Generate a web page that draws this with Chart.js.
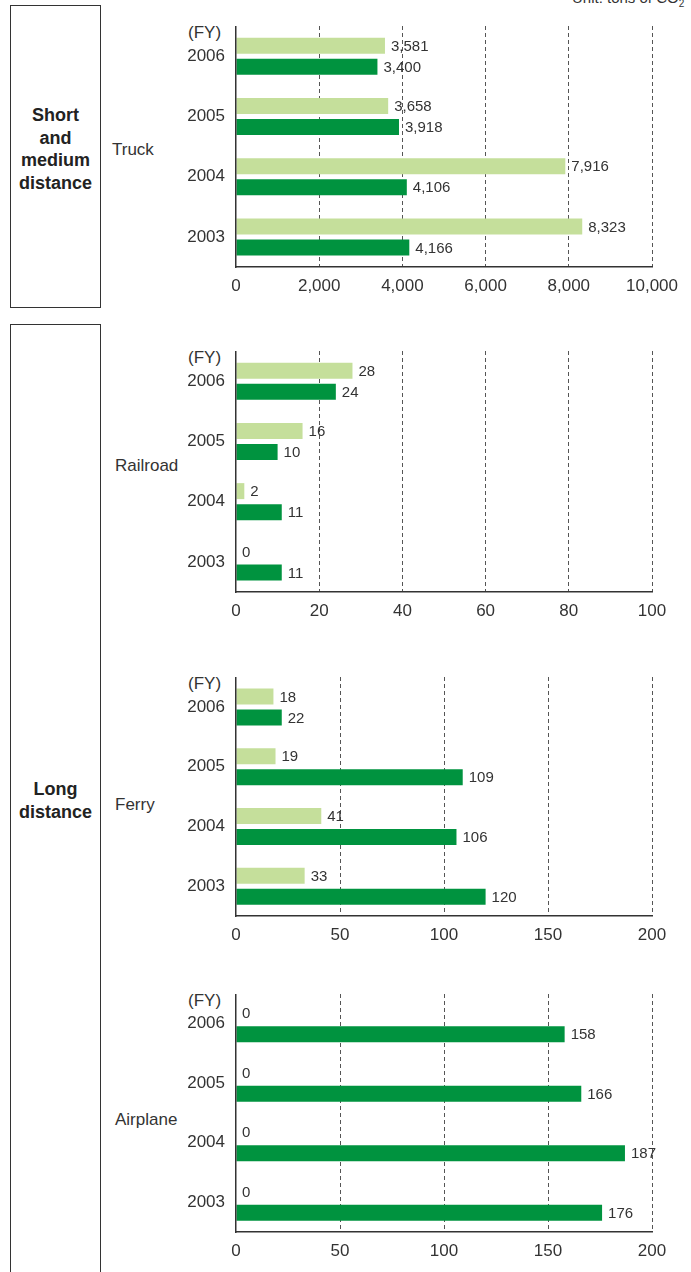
<!DOCTYPE html>
<html>
<head>
<meta charset="utf-8">
<script src="https://cdn.jsdelivr.net/npm/chart.js@4.4.1/dist/chart.umd.min.js"></script>
<style>
  html, body { margin: 0; padding: 0; background: #fff; }
  body { position: relative; width: 691px; height: 1272px; overflow: hidden;
         font-family: "Liberation Sans", Arial, sans-serif; color: #333; }
  .box { position: absolute; left: 10px; width: 89px; border: 1px solid #333; box-sizing: content-box; }
  .boxtxt { position: absolute; left: 10px; width: 91px; text-align: center; font-weight: bold;
            font-size: 18px; line-height: 22.5px; color: #222; }
  .cat { position: absolute; font-size: 17px; line-height: 17px; color: #333; }
  .fy { position: absolute; left: 188px; font-size: 17px; line-height: 17px; color: #333; }
  .unit { position: absolute; left: 572px; top: -10px; font-size: 15px; line-height: 15px; color: #333; white-space: nowrap; }
  canvas { position: absolute; left: 100px; }
</style>
</head>
<body>
<div class="unit">Unit: tons of CO<sub style="font-size:10px">2</sub></div>

<div class="box" style="top:5px;height:301px"></div>
<div class="boxtxt" style="top:104px">Short<br>and<br>medium<br>distance</div>
<div class="box" style="top:324px;height:1000px"></div>
<div class="boxtxt" style="top:778px">Long<br>distance</div>

<div class="cat" style="left:112px;top:141px">Truck</div>
<div class="cat" style="left:115px;top:457px">Railroad</div>
<div class="cat" style="left:115px;top:796px">Ferry</div>
<div class="cat" style="left:115px;top:1111px">Airplane</div>

<div class="fy" style="top:24px">(FY)</div>
<div class="fy" style="top:349px">(FY)</div>
<div class="fy" style="top:675px">(FY)</div>
<div class="fy" style="top:992px">(FY)</div>

<canvas id="truck"></canvas>
<canvas id="rail"></canvas>
<canvas id="ferry"></canvas>
<canvas id="air"></canvas>

<script>
const years = ["2006", "2005", "2004", "2003"];

const truckLight = [3581, 3658, 7916, 8323];
const truckDark  = [3400, 3918, 4106, 4166];
const railLight  = [28, 16, 2, 0];
const railDark   = [24, 10, 11, 11];
const ferryLight = [18, 19, 41, 33];
const ferryDark  = [22, 109, 106, 120];
const airLight   = [0, 0, 0, 0];
const airDark    = [158, 166, 187, 176];

const truckTicks = [0, 10000, 2000];
const railTicks  = [0, 100, 20];
const ferryTicks = [0, 200, 50];
const airTicks   = [0, 200, 50];

const LIGHT = "#c5df9b";
const DARK = "#00933f";
const TEXT = "#333";
const FONT = "'Liberation Sans', Arial, sans-serif";

const valueLabels = {
  id: "valueLabels",
  afterDatasetsDraw(chart) {
    const ctx = chart.ctx;
    ctx.save();
    ctx.font = "15px " + FONT;
    ctx.fillStyle = TEXT;
    ctx.textAlign = "left";
    ctx.textBaseline = "middle";
    chart.data.datasets.forEach((ds, i) => {
      chart.getDatasetMeta(i).data.forEach((bar, j) => {
        ctx.fillText(ds.data[j].toLocaleString("en-US"), bar.x + 6, bar.y + 1);
      });
    });
    ctx.restore();
  }
};

function makeChart(id, top, plotH, light, dark, ticks) {
  const canvas = document.getElementById(id);
  const h = plotH + 36;
  canvas.width = 591;
  canvas.height = h;
  canvas.style.top = top + "px";
  canvas.style.width = "591px";
  canvas.style.height = h + "px";
  const pitch = plotH / years.length;

  return new Chart(canvas, {
    type: "bar",
    data: {
      labels: years,
      datasets: [
        { data: light, backgroundColor: LIGHT, borderWidth: 0 },
        { data: dark, backgroundColor: DARK, borderWidth: 0 }
      ]
    },
    options: {
      indexAxis: "y",
      responsive: false,
      animation: false,
      categoryPercentage: 42 / pitch,
      barPercentage: 16 / 21,
      layout: { padding: { top: 0, right: 39, bottom: 0, left: 0 } },
      plugins: { legend: { display: false }, tooltip: { enabled: false } },
      scales: {
        x: {
          min: ticks[0],
          max: ticks[1],
          afterFit: (s) => { s.height = 36; s.paddingLeft = 0; s.paddingRight = 0; },
          grid: {
            drawTicks: false,
            color: (c) => (c.tick && c.tick.value === 0 ? "rgba(0,0,0,0)" : "#555"),
            lineWidth: 1
          },
          border: { display: true, color: TEXT, width: 1.5, dash: [4, 3] },
          ticks: {
            stepSize: ticks[2],
            padding: 9,
            color: TEXT,
            font: { family: FONT, size: 17 },
            maxRotation: 0,
            callback: (v) => v.toLocaleString("en-US")
          }
        },
        y: {
          afterFit: (s) => { s.width = 136; s.paddingTop = 0; s.paddingBottom = 0; },
          grid: { display: false, drawTicks: false },
          border: { display: true, color: TEXT, width: 1.5, z: 1 },
          ticks: {
            padding: 11,
            color: TEXT,
            font: { family: FONT, size: 17 }
          }
        }
      }
    },
    plugins: [valueLabels]
  });
}

makeChart("truck", 26, 241, truckLight, truckDark, truckTicks);
makeChart("rail", 351, 241, railLight, railDark, railTicks);
makeChart("ferry", 677, 239, ferryLight, ferryDark, ferryTicks);
makeChart("air", 994, 238, airLight, airDark, airTicks);
</script>
</body>
</html>
